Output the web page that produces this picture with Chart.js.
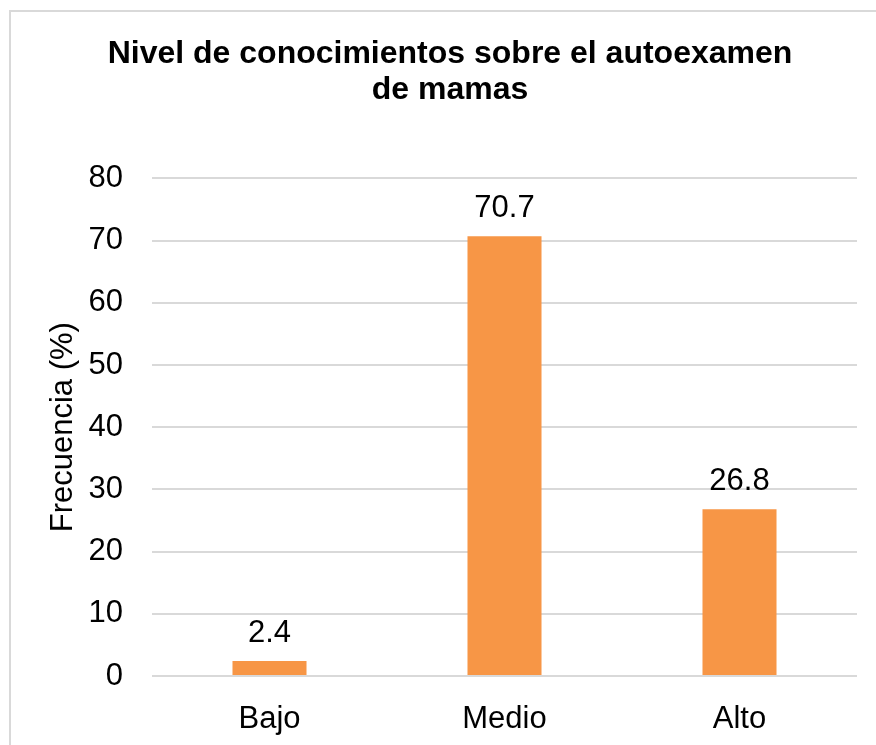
<!DOCTYPE html>
<html>
<head>
<meta charset="utf-8">
<script src="https://cdn.jsdelivr.net/npm/chart.js@4.4.1/dist/chart.umd.min.js"></script>
<style>
  html, body { margin: 0; padding: 0; background: #fff; overflow: hidden; }
  #frame {
    position: absolute; left: 9px; top: 10px; width: 1000px; height: 1000px;
    border-left: 2px solid #d9d9d9; border-top: 2px solid #d9d9d9;
  }
  #wrap { position: absolute; left: 0; top: 0; width: 900px; height: 745px; }
</style>
</head>
<body>
<div id="frame"></div>
<div id="wrap"><canvas id="chart"></canvas></div>
<script>
var titulo = ['Nivel de conocimientos sobre el autoexamen', 'de mamas'];
var categorias = ['Bajo', 'Medio', 'Alto'];
var frecuencia = [2.4, 70.7, 26.8];
var yMax = 80;
var yStep = 10;
var ejeY = 'Frecuencia (%)';

var fuente = '"Liberation Sans", Arial, sans-serif';

// etiquetas de valor encima de cada barra
var etiquetas = {
    id: 'etiquetas',
    afterDatasetsDraw: function (chart) {
        var ctx = chart.ctx;
        var meta = chart.getDatasetMeta(0);
        ctx.save();
        ctx.font = '31px ' + fuente;
        ctx.fillStyle = '#000';
        ctx.textAlign = 'center';
        ctx.textBaseline = 'alphabetic';
        meta.data.forEach(function (bar, i) {
            ctx.fillText(frecuencia[i].toFixed(1), bar.x, bar.y - 19);
        });
        ctx.restore();
    }
};

var ctx = document.getElementById('chart');

var chart = new Chart(ctx, {
    type: 'bar',
    data: {
        labels: categorias,
        datasets: [{
            data: frecuencia,
            backgroundColor: '#F79646',
            borderWidth: 0,
            categoryPercentage: 1,
            barPercentage: 0.315
        }]
    },
    options: {
        responsive: true,
        maintainAspectRatio: false,
        animation: false,
        layout: { padding: { left: 43, right: 43, top: 0, bottom: 0 } },
        plugins: {
            legend: { display: false },
            tooltip: { enabled: false },
            title: {
                display: true,
                text: titulo,
                color: '#000',
                font: { family: fuente, size: 32, weight: 'bold', lineHeight: 1.1 },
                padding: { top: 37, bottom: 71 }
            }
        },
        scales: {
            x: {
                grid: { display: false },
                border: { display: false },
                ticks: {
                    color: '#000',
                    font: { family: fuente, size: 31 },
                    padding: 17
                },
                afterFit: function (scale) { scale.height = 69; }
            },
            y: {
                min: 0,
                max: yMax,
                grid: { color: '#d9d9d9', lineWidth: 2, drawTicks: false },
                border: { display: false },
                ticks: {
                    stepSize: yStep,
                    color: '#000',
                    font: { family: fuente, size: 31 },
                    padding: 29
                },
                title: {
                    display: true,
                    text: ejeY,
                    color: '#000',
                    font: { family: fuente, size: 31 },
                    padding: { top: 2, bottom: 0 }
                },
                afterFit: function (scale) { scale.width = 109; }
            }
        }
    },
    plugins: [etiquetas]
});
</script>
</body>
</html>
